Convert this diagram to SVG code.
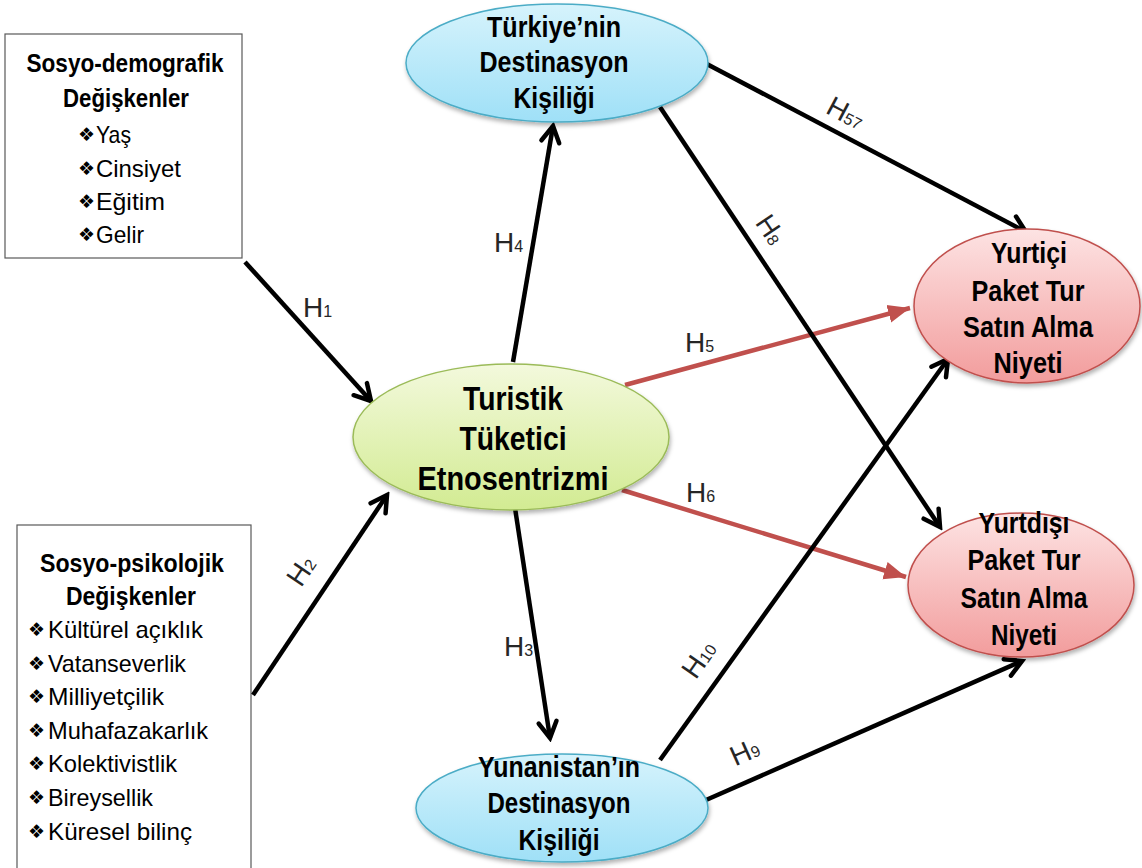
<svg xmlns="http://www.w3.org/2000/svg" width="1142" height="868" viewBox="0 0 1142 868">
<style>
.box{fill:#fff;stroke:#595959;stroke-width:1.2}
.bt{font-family:"Liberation Sans",Arial,sans-serif;font-weight:bold;font-size:25px;fill:#000;text-anchor:middle}
.it{font-family:"Liberation Sans",Arial,sans-serif;font-size:24px;fill:#000}
.bu{font-family:"DejaVu Sans",sans-serif;font-size:19px;fill:#000}
.nt{font-family:"Liberation Sans",Arial,sans-serif;font-weight:bold;font-size:30px;fill:#000;text-anchor:middle}
.ct{font-size:34px}
.lb{font-family:"Liberation Sans",Arial,sans-serif;font-size:28px;fill:#262626}
.sb{font-size:16px}
.blk{stroke:#000;stroke-width:4.5;fill:none;marker-end:url(#ab)}
.red{stroke:#c0504d;stroke-width:4.5;fill:none;marker-end:url(#ar)}
</style>
<defs>
<linearGradient id="gb" x1="0" y1="0" x2="0" y2="1"><stop offset="0" stop-color="#d6f3fc"/><stop offset="1" stop-color="#9fe0f7"/></linearGradient>
<linearGradient id="gg" x1="0" y1="0" x2="0" y2="1"><stop offset="0" stop-color="#f3f9dc"/><stop offset="1" stop-color="#d2eb92"/></linearGradient>
<linearGradient id="gr" x1="0" y1="0" x2="0" y2="1"><stop offset="0" stop-color="#fde3e3"/><stop offset="1" stop-color="#f29c9c"/></linearGradient>
<filter id="sh" x="-10%" y="-10%" width="120%" height="130%"><feDropShadow dx="1" dy="3" stdDeviation="2" flood-color="#000" flood-opacity="0.3"/></filter>
<marker id="ab" viewBox="0 0 24 24" refX="20" refY="12" markerWidth="24" markerHeight="24" markerUnits="userSpaceOnUse" orient="auto">
<path d="M4,3 L20,12 L4,21" fill="none" stroke="#000" stroke-width="4.5" stroke-linecap="round" stroke-linejoin="miter"/>
</marker>
<marker id="ar" viewBox="0 0 24 24" refX="22" refY="12" markerWidth="24" markerHeight="24" markerUnits="userSpaceOnUse" orient="auto">
<path d="M0,3 L22,12 L0,21 Z" fill="#c0504d"/>
</marker>
</defs>

<g id="box-demografik">
<rect class="box" x="5" y="34" width="237" height="224"/>
<text class="bt" x="125" y="72" textLength="197" lengthAdjust="spacingAndGlyphs">Sosyo-demografik</text>
<text class="bt" x="126" y="107" textLength="126" lengthAdjust="spacingAndGlyphs">Değişkenler</text>
<text class="bu" x="78" y="141">❖</text><text class="it" x="96" y="143" textLength="35" lengthAdjust="spacingAndGlyphs">Yaş</text>
<text class="bu" x="78" y="175">❖</text><text class="it" x="96" y="177" textLength="85" lengthAdjust="spacingAndGlyphs">Cinsiyet</text>
<text class="bu" x="78" y="208">❖</text><text class="it" x="96" y="210" textLength="69" lengthAdjust="spacingAndGlyphs">Eğitim</text>
<text class="bu" x="78" y="241">❖</text><text class="it" x="96" y="243" textLength="48" lengthAdjust="spacingAndGlyphs">Gelir</text>
</g>

<g id="box-psikolojik">
<rect class="box" x="17" y="525" width="234" height="360"/>
<text class="bt" x="132" y="572" textLength="184" lengthAdjust="spacingAndGlyphs">Sosyo-psikolojik</text>
<text class="bt" x="131" y="605" textLength="130" lengthAdjust="spacingAndGlyphs">Değişkenler</text>
<text class="bu" x="28" y="636">❖</text><text class="it" x="48" y="638" textLength="155" lengthAdjust="spacingAndGlyphs">Kültürel açıklık</text>
<text class="bu" x="28" y="670">❖</text><text class="it" x="48" y="672" textLength="138" lengthAdjust="spacingAndGlyphs">Vatanseverlik</text>
<text class="bu" x="28" y="703">❖</text><text class="it" x="48" y="705" textLength="116" lengthAdjust="spacingAndGlyphs">Milliyetçilik</text>
<text class="bu" x="28" y="737">❖</text><text class="it" x="48" y="739" textLength="160" lengthAdjust="spacingAndGlyphs">Muhafazakarlık</text>
<text class="bu" x="28" y="770">❖</text><text class="it" x="48" y="772" textLength="129" lengthAdjust="spacingAndGlyphs">Kolektivistlik</text>
<text class="bu" x="28" y="804">❖</text><text class="it" x="48" y="806" textLength="105" lengthAdjust="spacingAndGlyphs">Bireysellik</text>
<text class="bu" x="28" y="838">❖</text><text class="it" x="48" y="840" textLength="144" lengthAdjust="spacingAndGlyphs">Küresel bilinç</text>
</g>

<g id="connectors">
<line class="blk" x1="245" y1="262" x2="371" y2="401"/>
<line class="blk" x1="253" y1="695" x2="387" y2="495"/>
<line class="blk" x1="513" y1="362" x2="553" y2="126"/>
<line class="blk" x1="515" y1="508" x2="550" y2="738"/>
<line class="red" x1="625" y1="385" x2="910" y2="308"/>
<line class="red" x1="622" y1="490" x2="906" y2="577"/>
<line class="blk" x1="703" y1="62" x2="1026" y2="232"/>
<line class="blk" x1="660" y1="107" x2="940" y2="527"/>
<line class="blk" x1="660" y1="760" x2="948" y2="359"/>
<line class="blk" x1="706" y1="800" x2="1022" y2="661"/>
</g>

<g id="labels">
<text class="lb" x="303" y="317">H<tspan class="sb">1</tspan></text>
<text class="lb" transform="translate(300,572) rotate(-56)" x="-13" y="10">H<tspan class="sb">2</tspan></text>
<text class="lb" x="494" y="252">H<tspan class="sb">4</tspan></text>
<text class="lb" x="504" y="656">H<tspan class="sb">3</tspan></text>
<text class="lb" x="685" y="352">H<tspan class="sb">5</tspan></text>
<text class="lb" x="686" y="502">H<tspan class="sb">6</tspan></text>
<text class="lb" transform="translate(845,112) rotate(28)" x="-18" y="10">H<tspan class="sb">57</tspan></text>
<text class="lb" transform="translate(770,228) rotate(56)" x="-13" y="10">H<tspan class="sb">8</tspan></text>
<text class="lb" transform="translate(698,660) rotate(-55)" x="-18" y="10">H<tspan class="sb">10</tspan></text>
<text class="lb" transform="translate(743,752) rotate(-24)" x="-13" y="10">H<tspan class="sb">9</tspan></text>
</g>

<g id="node-turkiye">
<ellipse cx="557" cy="63" rx="151" ry="59" fill="url(#gb)" stroke="#4bacc6" stroke-width="1.5" filter="url(#sh)"/>
<text class="nt" x="554" y="37" textLength="134" lengthAdjust="spacingAndGlyphs">Türkiye’nin</text>
<text class="nt" x="554" y="72" textLength="149" lengthAdjust="spacingAndGlyphs">Destinasyon</text>
<text class="nt" x="554" y="108" textLength="81" lengthAdjust="spacingAndGlyphs">Kişiliği</text>
</g>

<g id="node-turistik">
<ellipse cx="511" cy="437" rx="158" ry="73" fill="url(#gg)" stroke="#9bbb59" stroke-width="1.5" filter="url(#sh)"/>
<text class="nt ct" x="513" y="410" textLength="100" lengthAdjust="spacingAndGlyphs">Turistik</text>
<text class="nt ct" x="513" y="450" textLength="107" lengthAdjust="spacingAndGlyphs">Tüketici</text>
<text class="nt ct" x="513" y="490" textLength="191" lengthAdjust="spacingAndGlyphs">Etnosentrizmi</text>
</g>

<g id="node-yurtici">
<ellipse cx="1027" cy="306" rx="113" ry="77" fill="url(#gr)" stroke="#c0504d" stroke-width="1.5" filter="url(#sh)"/>
<text class="nt" x="1029" y="263" textLength="76" lengthAdjust="spacingAndGlyphs">Yurtiçi</text>
<text class="nt" x="1028" y="301" textLength="113" lengthAdjust="spacingAndGlyphs">Paket Tur</text>
<text class="nt" x="1028" y="337" textLength="130" lengthAdjust="spacingAndGlyphs">Satın Alma</text>
<text class="nt" x="1028" y="373" textLength="69" lengthAdjust="spacingAndGlyphs">Niyeti</text>
</g>

<g id="node-yurtdisi">
<ellipse cx="1021" cy="585" rx="113" ry="72" fill="url(#gr)" stroke="#c0504d" stroke-width="1.5" filter="url(#sh)"/>
<text class="nt" x="1024" y="533" textLength="91" lengthAdjust="spacingAndGlyphs">Yurtdışı</text>
<text class="nt" x="1024" y="570" textLength="113" lengthAdjust="spacingAndGlyphs">Paket Tur</text>
<text class="nt" x="1024" y="608" textLength="127" lengthAdjust="spacingAndGlyphs">Satın Alma</text>
<text class="nt" x="1024" y="645" textLength="66" lengthAdjust="spacingAndGlyphs">Niyeti</text>
</g>

<g id="node-yunanistan">
<ellipse cx="562" cy="808" rx="146" ry="54" fill="url(#gb)" stroke="#4bacc6" stroke-width="1.5" filter="url(#sh)"/>
<text class="nt" x="559" y="777" textLength="162" lengthAdjust="spacingAndGlyphs">Yunanistan’ın</text>
<text class="nt" x="559" y="813" textLength="143" lengthAdjust="spacingAndGlyphs">Destinasyon</text>
<text class="nt" x="559" y="850" textLength="81" lengthAdjust="spacingAndGlyphs">Kişiliği</text>
</g>
</svg>
